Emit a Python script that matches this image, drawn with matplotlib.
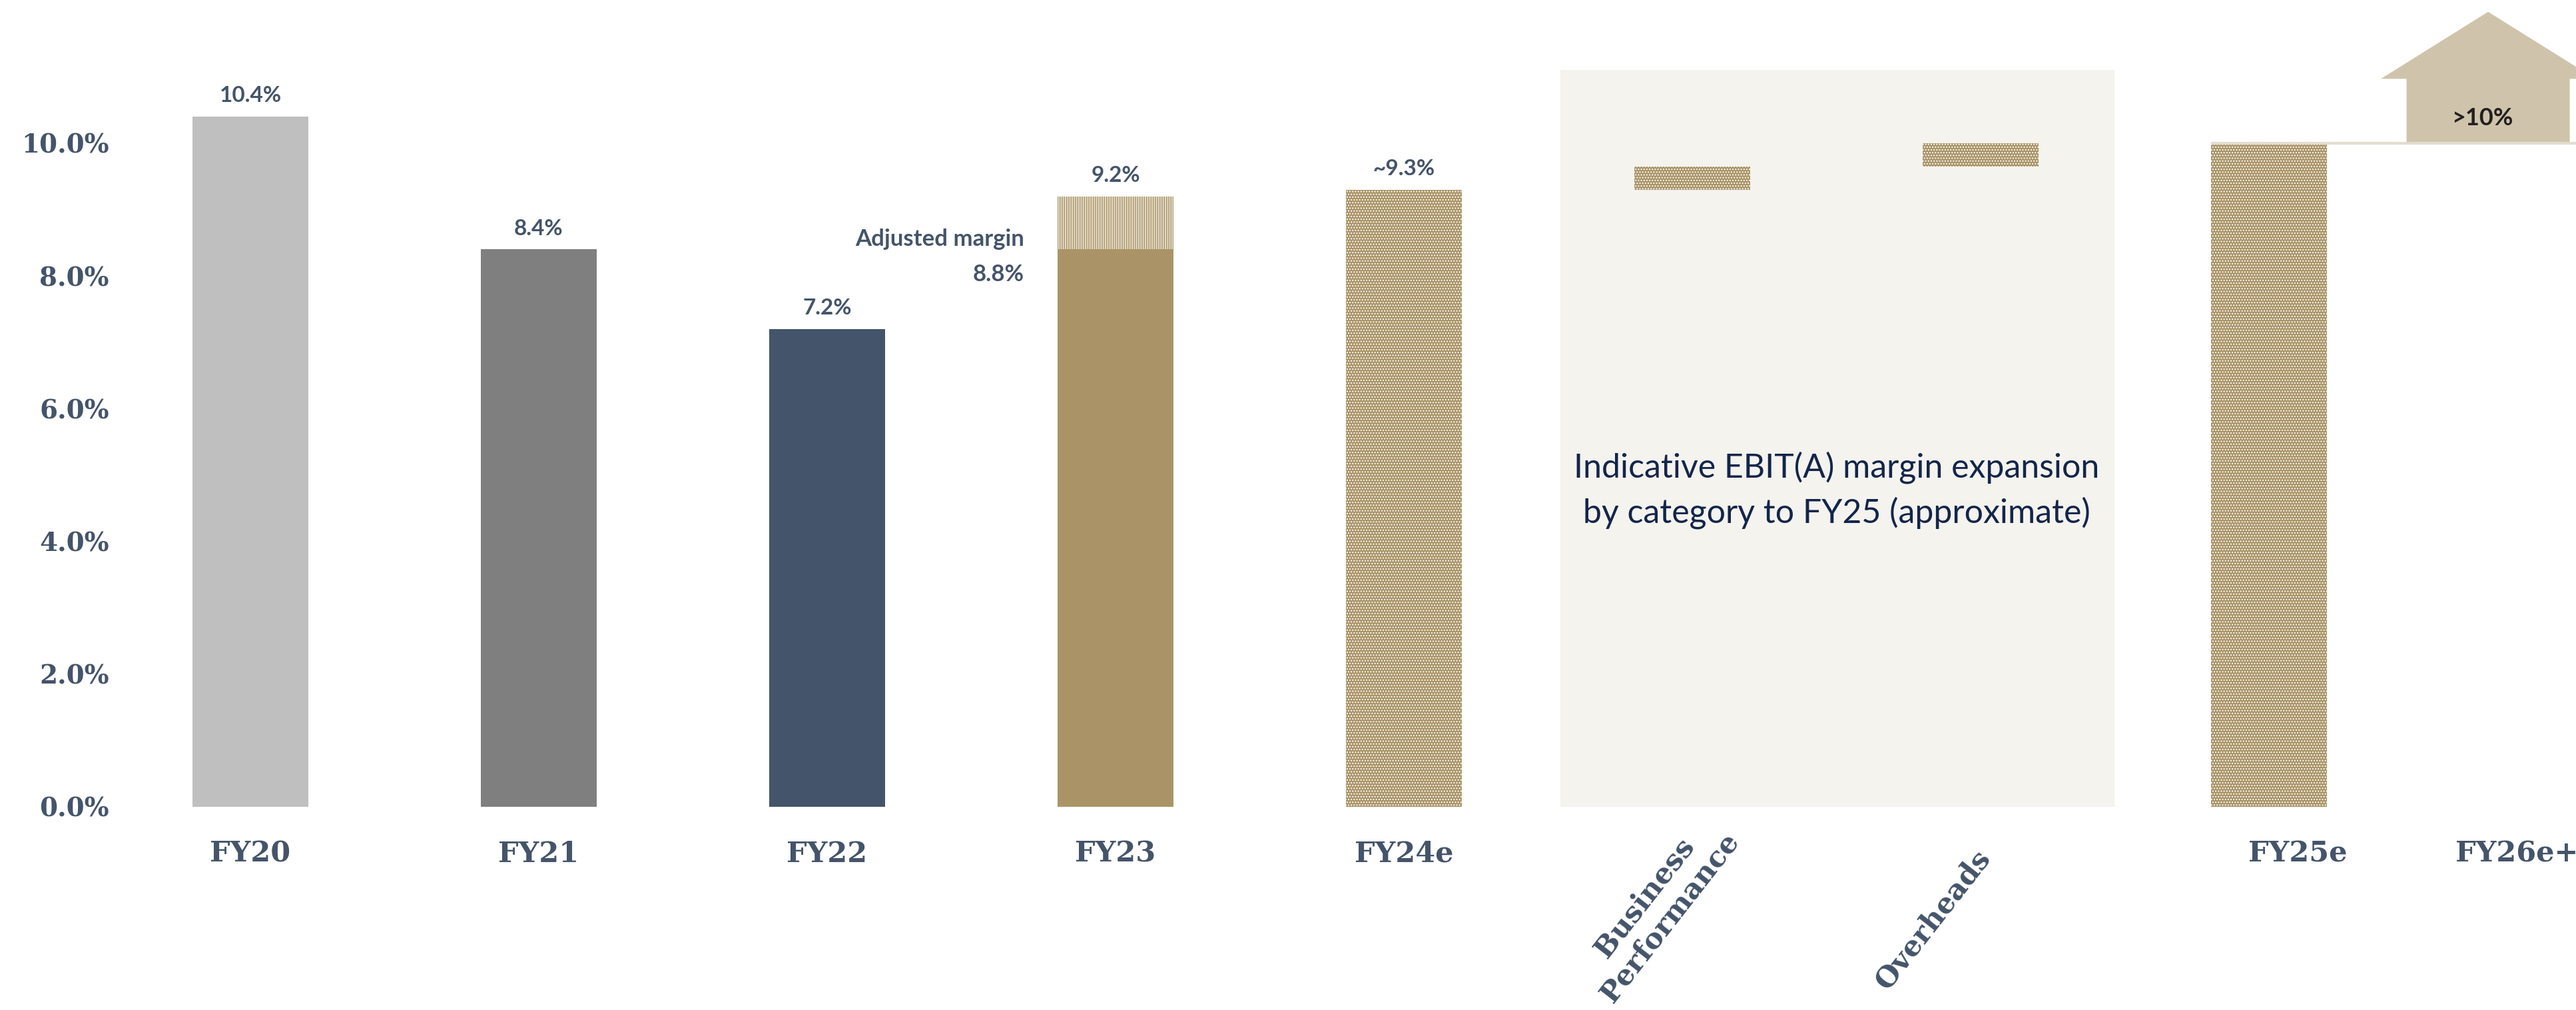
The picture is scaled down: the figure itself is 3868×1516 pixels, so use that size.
import matplotlib
matplotlib.use("Agg")
import matplotlib.pyplot as plt
from matplotlib.patches import Rectangle, Polygon

# EBIT(A) margin history, bridge to FY25 and the FY26+ target
years = ["FY20", "FY21", "FY22", "FY23", "FY24e"]
margins = [10.4, 8.4, 7.2, 8.4, 9.3]
year_labels = ["10.4%", "8.4%", "7.2%", "9.2%", "~9.3%"]
fy23_adjusted = 9.2
bridge_names = ["Business\nPerformance", "Overheads"]
bridge_steps = [0.35, 0.35]
fy25e = 10.0
target = 10.0
tick_labels = ["FY20", "FY21", "FY22", "FY23", "FY24e", "FY25e", "FY26e+"]
yticks = [0, 2, 4, 6, 8, 10]

navy = "#44546a"
gold = "#aa9467"
greys = ["#bfbfbf", "#7f7f7f", "#44546a", gold]

plt.rcParams["hatch.linewidth"] = 1.0

fig = plt.figure(figsize=(38.68, 15.16), dpi=100)
ax = fig.add_axes([200 / 3868, 305 / 1516, 3668 / 3868, 1211 / 1516])
ax.set_xlim(-0.4065, 8.0647)
ax.set_ylim(0, 12.158)
w = 0.4

# shaded panel behind the bridge steps
ax.add_patch(Rectangle((5 - 0.457, 0), 1.921, 11.1, facecolor="#f4f3ee",
                       edgecolor="none", zorder=0, clip_on=False))
ax.text(5.5, 4.77, "Indicative EBIT(A) margin expansion\nby category to FY25 (approximate)",
        ha="center", va="center", fontsize=36, family="Lato", color="#13254a",
        linespacing=1.5)

# solid history bars
for i in range(4):
    ax.bar(i, margins[i], width=w, color=greys[i], zorder=2)

# FY23 adjusted top-up (striped)
ax.bar(3, fy23_adjusted - margins[3], bottom=margins[3], width=w,
       facecolor="#e4dccb", edgecolor=gold, hatch="|||||", linewidth=0, zorder=2)

# dotted estimate bars
dots = dict(width=w, facecolor=gold, edgecolor="white", hatch="....",
            linewidth=0, zorder=2)
ax.bar(4, margins[4], **dots)
base = margins[4]
for k, step in enumerate(bridge_steps):
    ax.bar(5 + k, step, bottom=base, **dots)
    base += step
ax.bar(7, fy25e, **dots)

# value labels
tops = margins[:3] + [fy23_adjusted, margins[4]]
for i, (v, lab) in enumerate(zip(tops, year_labels)):
    ax.annotate(lab, (i, v), xytext=(0, 12), textcoords="offset points",
                ha="center", va="bottom", fontsize=24, family="Lato",
                fontweight="bold", color=navy)
ax.text(3 - 0.316, 8.29, "Adjusted margin\n8.8%", ha="right", va="center",
        multialignment="right", fontsize=25, family="Lato", fontweight="bold",
        color=navy, linespacing=1.8)

# target line and house-shaped arrow
hx = 7.76
ax.plot([7 - w / 2, 8.0647], [target, target], color="#e3ddd0", lw=3,
        zorder=3, solid_capstyle="butt")
house = [(hx - 0.283, target), (hx + 0.283, target), (hx + 0.283, target + 0.97),
         (hx + 0.372, target + 0.97), (hx, target + 1.98),
         (hx - 0.372, target + 0.97), (hx - 0.283, target + 0.97)]
ax.add_patch(Polygon(house, closed=True, facecolor="#cfc4ab", edgecolor="none",
                     zorder=2, clip_on=False))
ax.text(hx - 0.02, target + 0.38, ">10%", ha="center", va="center", fontsize=26,
        family="Lato", fontweight="bold", color="#231f20")

# axes styling
for s in ax.spines.values():
    s.set_visible(False)
ax.set_yticks(yticks)
ax.set_yticklabels([f"{t:.1f}%" for t in yticks])
ax.tick_params(axis="y", length=0, pad=26, labelsize=28, labelcolor=navy)
for t in ax.get_yticklabels():
    t.set_family("DejaVu Serif")
    t.set_fontweight("bold")

ax.set_xticks([0, 1, 2, 3, 4, 7.1, 7.86])
ax.set_xticklabels(tick_labels)
ax.tick_params(axis="x", length=0, pad=36, labelsize=31, labelcolor=navy)
for t in ax.get_xticklabels():
    t.set_family("DejaVu Serif")
    t.set_fontweight("bold")

# slanted labels under the bridge steps
for k, (name, off) in enumerate(zip(bridge_names, [(5, -1), (-7, -41)])):
    ax.annotate(name, (5 + k, 0), xytext=off, textcoords="offset points",
                rotation=52, rotation_mode="anchor", ha="right", va="top",
                multialignment="center", fontsize=31, family="DejaVu Serif",
                fontweight="bold", color=navy, annotation_clip=False)

fig.savefig("out.png", dpi=100)
